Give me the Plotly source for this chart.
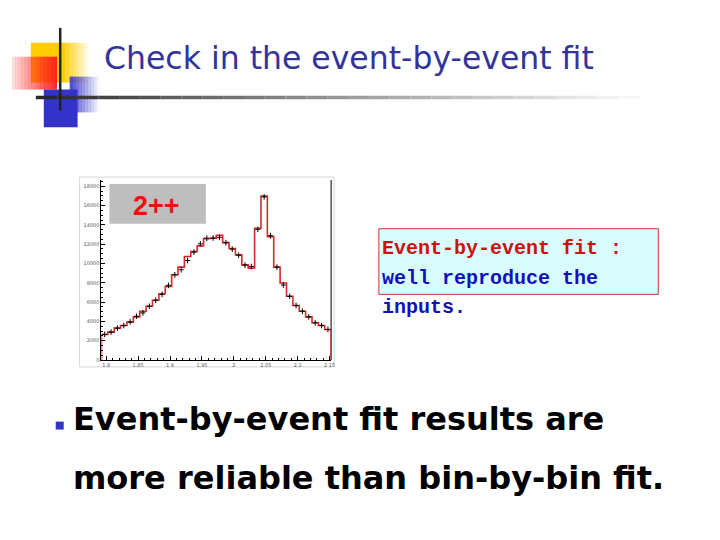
import plotly.graph_objects as go

# ---- data ----
bin_start = 1.7925
bin_width = 0.01
fit_values = [2646, 2886, 3300, 3570, 3920, 4470, 5050, 5570, 6190, 6870,
              7630, 8830, 9620, 10720, 11240, 11820, 12580, 12610, 12920, 12160,
              11550, 10890, 9860, 9520, 13640, 16980, 12780, 9620, 7970, 6600,
              5640, 5050, 4470, 3850, 3570, 3160]
data_values = [2646, 2886, 3300, 3570, 3950, 4535, 4880, 5570, 6190, 6800,
               7730, 8830, 9350, 10310, 11170, 12030, 12610, 12640, 12710, 12160,
               11480, 10860, 9830, 9690, 13540, 16900, 12880, 9620, 7770, 6600,
               5640, 5050, 4470, 3850, 3570, 3160]
x_ticks = [1.8, 1.85, 1.9, 1.95, 2.0, 2.05, 2.1, 2.15]
x_tick_labels = ["1.8", "1.85", "1.9", "1.95", "2", "2.05", "2.1", "2.15"]
y_ticks = [0, 2000, 4000, 6000, 8000, 10000, 12000, 14000, 16000, 18000]
y_tick_labels = [str(v) for v in y_ticks]

n = len(fit_values)
edges = [bin_start + i * bin_width for i in range(n + 1)]
centers = [bin_start + (i + 0.5) * bin_width for i in range(n)]

hx = [edges[0]] + edges[:-1] + [edges[-1], edges[-1]]
hy = [0] + fit_values + [fit_values[-1], 0]

# page has an 8px body margin; figure is sized to fit the window
OFF = 8
W = 720 - 2 * OFF
H = 540 - 2 * OFF


def px(x):
    return (x - OFF) / W


def py(y):
    return 1 - (y - OFF) / H


fig = go.Figure()
fig.add_trace(go.Scatter(x=hx, y=hy, mode="lines", line_shape="hv",
                         line=dict(color="#d42a2a", width=1.6), hoverinfo="skip"))
fig.add_trace(go.Scatter(x=centers, y=data_values, mode="markers",
                         marker=dict(symbol="line-ns-open", size=4, color="black",
                                     line=dict(color="black", width=1)),
                         error_x=dict(type="constant", value=0.0038, color="black",
                                      thickness=1, width=0)))

fig.update_layout(
    width=W, height=H, margin=dict(l=0, r=0, t=0, b=0),
    paper_bgcolor="white", plot_bgcolor="white", showlegend=False,
    xaxis=dict(domain=[px(102), px(333)], range=[edges[0], 2.1525],
               tickvals=x_ticks, ticktext=x_tick_labels, ticks="inside",
               ticklen=4, tickcolor="black", showgrid=False, zeroline=False,
               showline=True, linecolor="black", linewidth=1,
               tickfont=dict(size=5, color="#555555", family="DejaVu Sans"),
               minor=dict(dtick=0.01, ticks="inside", ticklen=2, tickcolor="black")),
    yaxis=dict(domain=[py(362), py(181)], range=[0, 18650],
               tickvals=y_ticks, ticktext=y_tick_labels, ticks="inside",
               ticklen=4, tickcolor="black", showgrid=False, zeroline=False,
               showline=True, linecolor="black", linewidth=1,
               tickfont=dict(size=5, color="#555555", family="DejaVu Sans"),
               minor=dict(dtick=500, ticks="inside", ticklen=2, tickcolor="black")),
)

shapes = []


def rect(x0, x1, y0, y1, color, op=1.0, layer="above", line=None):
    d = dict(type="rect", xref="paper", yref="paper", x0=px(x0), x1=px(x1),
             y0=py(y1), y1=py(y0), fillcolor=color, opacity=op,
             line=line if line else dict(width=0), layer=layer)
    shapes.append(d)


def hgrad(x0, x1, y0, y1, rgb, a0, a1, steps=12):
    for i in range(steps):
        xa = x0 + (x1 - x0) * i / steps
        xb = x0 + (x1 - x0) * (i + 1) / steps + 0.3
        a = a0 + (a1 - a0) * (i + 0.5) / steps
        rect(xa, xb, y0, y1, f"rgba({rgb},{a:.3f})")


# canvas border
rect(80, 336, 178, 369, "rgba(0,0,0,0)", line=dict(color="#d8d8d8", width=1), layer="below")
# right frame line
shapes.append(dict(type="line", xref="paper", yref="paper", x0=px(333), x1=px(333),
                   y0=py(362), y1=py(181), line=dict(color="#555555", width=1.5), layer="below"))
# 2++ box
rect(110, 207, 185, 225, "#bebebe", layer="below")
# text box
rect(381, 662, 230, 296, "#d9fdff", layer="below", line=dict(color="#cc3333", width=1))

# decoration: yellow
rect(31, 66, 43, 83, "#ffcc00")
hgrad(66, 90, 43, 83, "255,204,0", 0.85, 0.0, steps=10)
# red gradient
hgrad(12, 57, 57, 90, "255,30,30", 0.12, 1.0, steps=14)
# blue faded block and solid block
hgrad(70, 100, 77, 113, "51,51,204", 0.9, 0.0, steps=10)
rect(44, 78, 90, 128, "#3333cc")
# horizontal gradient line
segs = 30
for i in range(segs):
    x0 = 36 + i * (664 - 36) / segs
    x1 = 36 + (i + 1) * (664 - 36) / segs
    g = int(40 + 215 * (i / (segs - 1)) ** 0.9)
    shapes.append(dict(type="line", xref="paper", yref="paper", x0=px(x0), x1=px(x1),
                       y0=py(98), y1=py(98),
                       line=dict(color=f"rgb({g},{g},{g})", width=3.5), layer="above"))
# vertical black line
shapes.append(dict(type="line", xref="paper", yref="paper", x0=px(60.5), x1=px(60.5),
                   y0=py(111), y1=py(28), line=dict(color="#222222", width=2.5), layer="above"))
# bullet
rect(56, 64, 424, 432, "#3333cc")
fig.update_layout(shapes=shapes)

ann = []


def text(t, x, y, size, color, family, xanchor="left"):
    ann.append(dict(text=t, x=px(x), y=py(y), xref="paper", yref="paper",
                    xanchor=xanchor, yanchor="middle", showarrow=False,
                    font=dict(family=family, size=size, color=color)))


text("Check in the event-by-event fit", 103, 58, 31.5, "#333399", "DejaVu Sans")
text("<b>2++</b>", 157, 207, 27, "#ee1111", "Liberation Sans", xanchor="center")
mono = "Liberation Mono"
text("<b>Event-by-event fit :</b>", 382, 250, 20, "#cc1111", mono)
text("<b>well reproduce the</b>", 382, 280, 20, "#1111bb", mono)
text("<b>inputs.</b>", 382, 309, 20, "#1111bb", mono)
text("<b>Event-by-event fit results are</b>", 71, 421, 32, "black", "DejaVu Sans")
text("<b>more reliable than bin-by-bin fit.</b>", 71, 481, 32, "black", "DejaVu Sans")
fig.update_layout(annotations=ann)

fig.write_html("out.html")
